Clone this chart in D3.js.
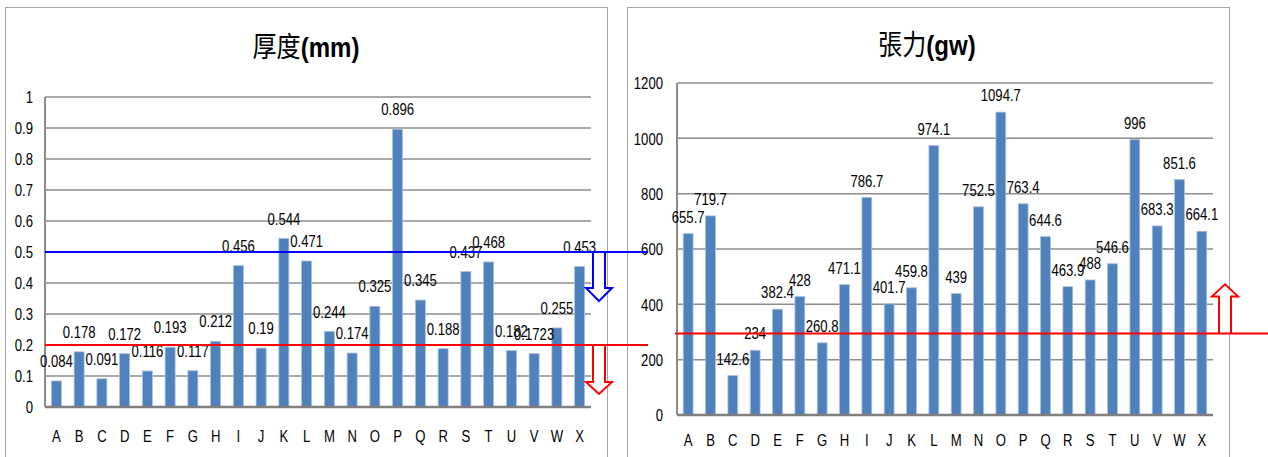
<!DOCTYPE html>
<html>
<head>
<meta charset="utf-8">
<script src="https://cdn.jsdelivr.net/npm/d3@7/dist/d3.min.js"></script>
<style>
  html, body { margin: 0; padding: 0; background: #fff; }
  svg { display: block; }
  text { font-family: "Liberation Sans", Arial, sans-serif; fill: #000; }
</style>
</head>
<body>
<svg id="chart" width="1268" height="457"></svg>
<script>
// Sample codes A–X
const categories = ["A","B","C","D","E","F","G","H","I","J","K","L","M","N","O","P","Q","R","S","T","U","V","W","X"];

// Thickness (mm) per sample
const thicknessValues = [0.084,0.178,0.091,0.172,0.116,0.193,0.117,0.212,0.456,0.19,0.544,0.471,
                         0.244,0.174,0.325,0.896,0.345,0.188,0.437,0.468,0.182,0.1723,0.255,0.453];
// Tension (gw) per sample
const tensionValues = [655.7,719.7,142.6,234,382.4,428,260.8,471.1,786.7,401.7,459.8,974.1,
                       439,752.5,1094.7,763.4,644.6,463.9,488,546.6,996,683.3,851.6,664.1];

// Axis ticks
const thicknessTicks = [0,0.1,0.2,0.3,0.4,0.5,0.6,0.7,0.8,0.9,1];
const tensionTicks = [0,200,400,600,800,1000,1200];

// Spec limits
const thicknessUpper = 0.5;
const thicknessLower = 0.2;
const tensionLower = 295;

const svg = d3.select("#chart");
const SX = 0.82;        // horizontal squeeze of the chart lettering
const BAR = "#4f81bd";

function squeezed(sel, x, y) {
  return sel.attr("transform", `translate(${x},${y}) scale(${SX},1)`);
}

function drawPanel(cfg) {
  const g = svg.append("g");

  // chart frame
  g.append("rect")
    .attr("x", cfg.frame[0] + 0.5).attr("y", cfg.frame[1] + 0.5)
    .attr("width", cfg.frame[2]).attr("height", cfg.frame[3])
    .attr("fill", "none").attr("stroke", "#a6a6a6").attr("stroke-width", 1);

  // title: CJK part regular, unit part bold
  const t = g.append("text")
    .attr("text-anchor", "middle")
    .attr("font-size", 28)
    .attr("transform", `translate(${cfg.titleX},${cfg.titleY}) scale(0.86,1)`);
  t.append("tspan").style("font-family", '"Noto Sans CJK TC","Noto Sans CJK JP",sans-serif').text(cfg.titleMain);
  t.append("tspan").attr("font-weight", "bold").text(cfg.titleUnit);

  const x = d3.scaleBand().domain(categories).range([cfg.left, cfg.right])
    .paddingInner(0.56).paddingOuter(0.28);
  const y = d3.scaleLinear().domain([0, cfg.ticks[cfg.ticks.length - 1]]).range([cfg.bottom, cfg.top]);

  // horizontal gridlines
  g.append("g").selectAll("line").data(cfg.ticks.filter(d => d > 0)).join("line")
    .attr("x1", cfg.left).attr("x2", cfg.right)
    .attr("y1", d => y(d)).attr("y2", d => y(d))
    .attr("stroke", "#8c8c8c").attr("stroke-width", 1.5);

  // bars
  g.append("g").selectAll("rect").data(cfg.values).join("rect")
    .attr("x", (d, i) => x(categories[i]))
    .attr("y", d => y(d))
    .attr("width", x.bandwidth())
    .attr("height", d => y(0) - y(d))
    .attr("fill", BAR)
    .attr("stroke", "#a9c1df").attr("stroke-width", 0.8);

  // y axis (labels only; the line is drawn below)
  const ya = g.append("g").attr("transform", `translate(${cfg.left},0)`)
    .call(d3.axisLeft(y).tickValues(cfg.ticks).tickSize(0).tickFormat(d3.format("~g")));
  ya.select(".domain").remove();
  ya.selectAll("text")
    .attr("font-size", 16).attr("font-family", '"Liberation Sans", Arial, sans-serif')
    .attr("fill", "#000").attr("dy", null).attr("x", -cfg.tickGap / SX).attr("y", 5.7)
    .attr("transform", `scale(${SX},1)`);

  // axis lines
  g.append("line").attr("x1", cfg.left).attr("x2", cfg.left).attr("y1", cfg.top).attr("y2", cfg.bottom)
    .attr("stroke", "#8c8c8c").attr("stroke-width", 2);
  g.append("line").attr("x1", cfg.left).attr("x2", cfg.right).attr("y1", cfg.bottom).attr("y2", cfg.bottom)
    .attr("stroke", "#7f7f7f").attr("stroke-width", 2.5);

  // category labels
  g.append("g").selectAll("text").data(categories).join("text")
    .attr("text-anchor", "middle").attr("font-size", 16)
    .each(function (d) { squeezed(d3.select(this), x(d) + x.bandwidth() / 2, cfg.catY); })
    .text(d => d);

  // value labels
  g.append("g").selectAll("text").data(cfg.values).join("text")
    .attr("text-anchor", "middle").attr("font-size", 16)
    .each(function (d, i) {
      squeezed(d3.select(this), x(categories[i]) + x.bandwidth() / 2, y(d) - cfg.labelLift);
    })
    .text(d => String(d));

  return { x, y, g };
}

// left: thickness
const left = drawPanel({
  frame: [5, 7, 602, 470], left: 45, right: 591, top: 97, bottom: 407,
  ticks: thicknessTicks, values: thicknessValues, tickGap: 12,
  titleMain: "厚度", titleUnit: "(mm)", titleX: 306, titleY: 57,
  catY: 442, labelLift: 13.8
});

// right: tension
const right = drawPanel({
  frame: [627, 7, 602, 470], left: 677, right: 1213, top: 83, bottom: 415,
  ticks: tensionTicks, values: tensionValues, tickGap: 14,
  titleMain: "張力", titleUnit: "(gw)", titleX: 927, titleY: 55,
  catY: 446, labelLift: 10.8
});

// spec limit lines and hollow arrows
const refs = svg.append("g");
function limitLine(x1, x2, yv, color) {
  refs.append("line").attr("x1", x1).attr("x2", x2).attr("y1", yv).attr("y2", yv)
    .attr("stroke", color).attr("stroke-width", 2);
}
function hollowArrow(cx, y0, dir, color, shaft, head) {
  // dir: +1 points down, -1 points up
  const ys = y0 + dir * shaft, yt = ys + dir * head;
  const pts = [[cx - 6, y0], [cx - 6, ys], [cx - 13, ys], [cx, yt], [cx + 13, ys], [cx + 6, ys], [cx + 6, y0]];
  refs.append("path").attr("d", d3.line()(pts))
    .attr("fill", "#fff").attr("stroke", color).attr("stroke-width", 2).attr("stroke-linejoin", "miter");
}

const yUp = left.y(thicknessUpper), yLo = left.y(thicknessLower), yT = right.y(tensionLower);
hollowArrow(599, yUp, 1, "#0000ff", 36, 13);
hollowArrow(599, yLo, 1, "#ff0000", 37, 12);
hollowArrow(1225, yT, -1, "#ff0000", 37, 12);
limitLine(45, 648, yUp, "#0000ff");
limitLine(45, 648, yLo, "#ff0000");
limitLine(675, 1268, yT, "#ff0000");
</script>
</body>
</html>
